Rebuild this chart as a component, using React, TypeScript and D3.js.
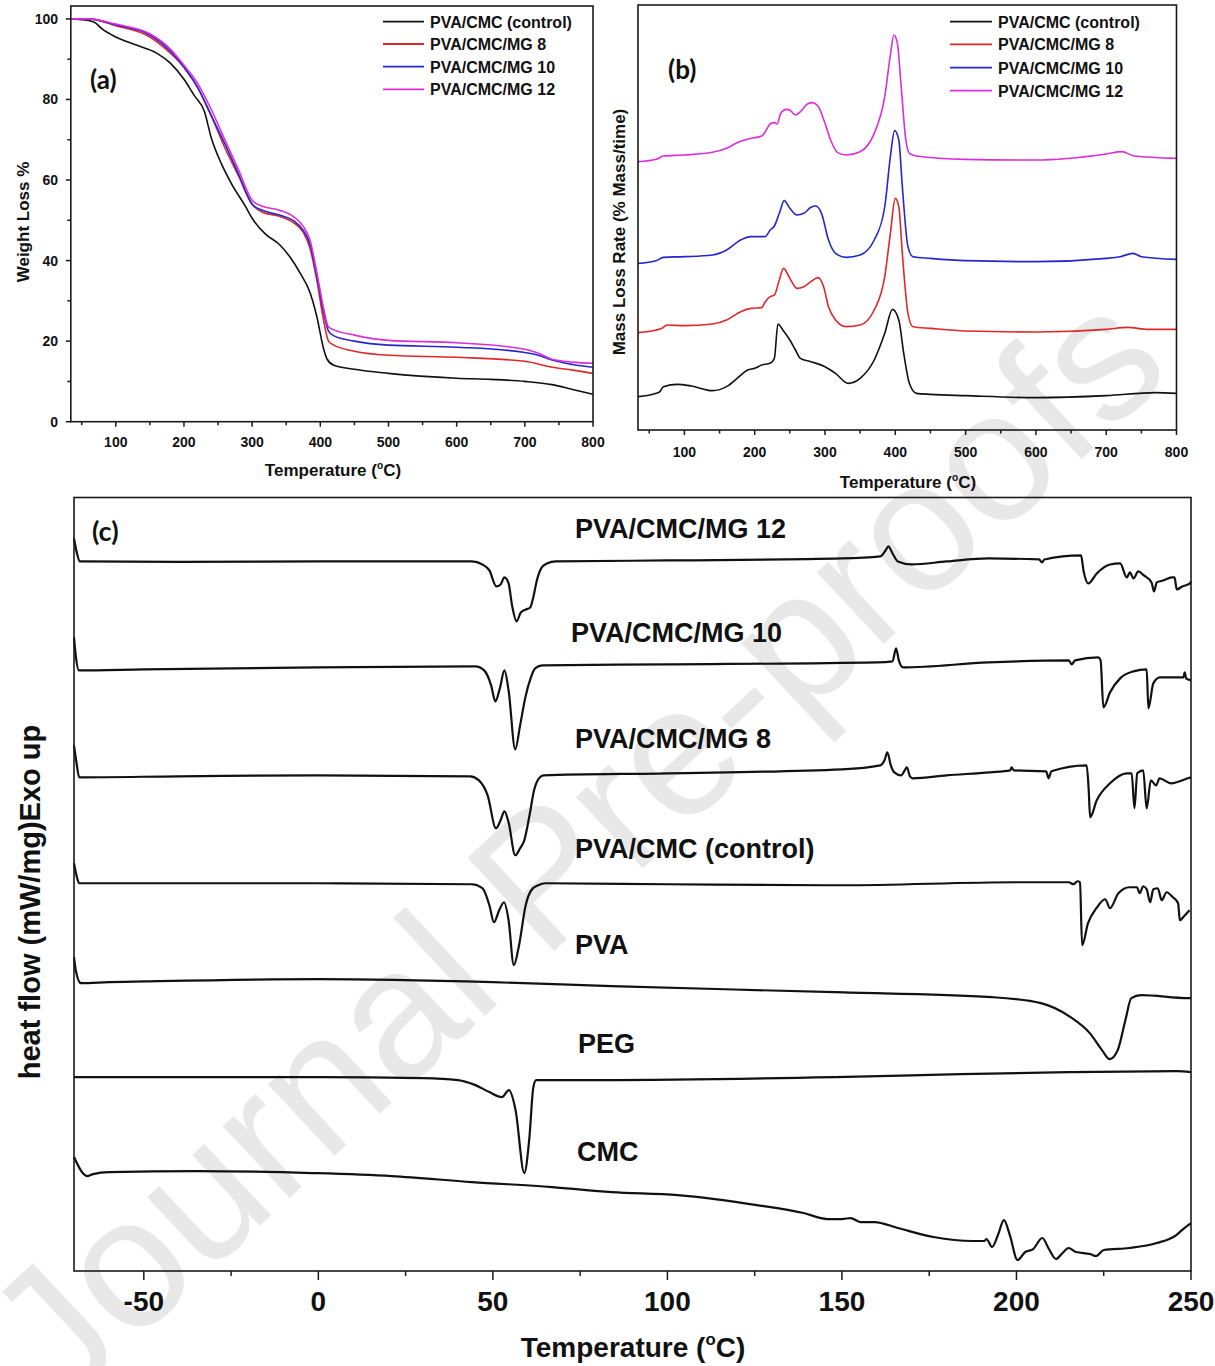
import React from "react";
import * as d3 from "d3";

type Pt = [number, number];

const W = 1215;
const H = 1366;
const SANS = "'Liberation Sans', Arial, Helvetica, sans-serif";
const TAG_FONT = "Lato, 'Open Sans', sans-serif";

// ---------- (a) TGA: weight remaining (%) vs temperature (°C) ----------
const tgaControl: Pt[] = [
  [34, 100], [60, 99.6], [70, 99], [80, 97.5], [100, 95.5], [130, 93.5], [160, 91.5], [180, 89],
  [200, 85], [215, 81], [230, 77], [240, 70.5], [255, 64], [270, 59], [290, 53.5], [300, 50.5],
  [320, 46.5], [340, 44], [355, 41], [370, 37], [385, 32], [395, 26], [405, 18], [410, 15.5],
  [420, 14], [450, 13], [500, 12], [600, 10.8], [650, 10.5], [700, 10], [740, 9.2], [770, 8], [800, 6.8],
];
const tgaMG8: Pt[] = [
  [34, 100], [60, 100], [100, 98.3], [150, 95.5], [180, 91.5], [200, 88], [220, 83], [240, 76],
  [260, 68], [280, 61], [300, 54], [315, 52], [340, 51], [360, 49.5], [375, 47], [385, 43],
  [395, 35], [405, 25], [412, 20], [420, 19], [450, 17.5], [500, 16.5], [600, 16], [700, 15],
  [740, 13.5], [770, 12.8], [800, 12],
];
const tgaMG10: Pt[] = [
  [34, 100], [60, 100], [100, 98.5], [150, 96], [180, 92], [200, 88], [220, 83], [240, 76],
  [260, 69], [280, 61.5], [300, 54], [315, 52.5], [340, 51.3], [360, 50], [375, 47.5], [385, 44],
  [395, 36], [405, 27], [412, 22.5], [420, 21.3], [450, 20], [500, 19], [600, 18.5], [700, 17.2],
  [720, 16.5], [740, 15.3], [770, 14.2], [800, 13.5],
];
const tgaMG12: Pt[] = [
  [34, 100], [60, 100], [100, 98.7], [150, 96.3], [180, 92.5], [200, 88.5], [220, 84], [240, 77.5],
  [260, 70], [280, 62.5], [300, 55], [315, 53.5], [340, 52.5], [360, 51], [375, 48.5], [385, 45],
  [395, 37], [405, 28], [412, 23.5], [420, 22.8], [450, 21.5], [500, 20.2], [600, 19.6], [700, 18],
  [720, 17], [740, 15.5], [770, 14.8], [800, 14.5],
];

// ---------- (b) DTG: mass loss rate (offset traces, arb. units) ----------
const dtgControl: Pt[] = [
  [34, 10.0], [60, 11.0], [65, 11.5], [70, 13.0], [90, 13.7], [110, 13.2], [140, 11.8], [160, 13.0],
  [175, 15.5], [190, 18.0], [200, 18.5], [210, 19.5], [222, 20.0], [228, 21.5], [233, 31.8],
  [240, 30.0], [250, 27.0], [258, 24.0], [265, 21.5], [280, 20.5], [300, 19.0], [315, 17.0],
  [333, 14.0], [350, 15.5], [370, 21.0], [385, 29.0], [396, 36.2], [405, 33.0], [412, 23.0],
  [420, 14.0], [430, 11.0], [450, 10.7], [500, 10.3], [600, 9.7], [700, 10.3], [770, 11.2], [800, 11.0],
];
const dtgMG8: Pt[] = [
  [34, 29.2], [60, 30.0], [68, 30.5], [75, 31.5], [100, 31.3], [140, 31.8], [160, 33.0], [180, 35.5],
  [195, 36.5], [210, 36.7], [215, 38.5], [222, 40.0], [228, 40.5], [235, 45.0], [241, 48.5],
  [250, 45.5], [260, 42.5], [270, 43.0], [280, 44.5], [290, 45.7], [298, 43.0], [305, 37.0],
  [315, 33.0], [330, 31.0], [350, 31.5], [370, 36.0], [385, 46.0], [393, 59.0], [400, 69.5],
  [405, 67.0], [410, 53.0], [418, 35.0], [425, 31.0], [450, 30.5], [500, 29.7], [600, 29.4],
  [700, 30.2], [730, 30.8], [760, 30.2], [800, 30.2],
];
const dtgMG10: Pt[] = [
  [34, 50.0], [60, 50.8], [70, 51.8], [100, 52.0], [140, 52.5], [160, 54.0], [180, 57.0], [195, 58.0],
  [215, 58.0], [222, 60.0], [228, 61.2], [235, 65.0], [242, 68.8], [250, 66.5], [260, 64.5],
  [270, 65.0], [280, 66.8], [287, 67.2], [295, 65.0], [305, 57.0], [315, 53.0], [330, 51.8],
  [350, 52.5], [370, 57.0], [385, 67.0], [393, 82.0], [399, 89.8], [405, 87.0], [410, 73.0],
  [418, 55.0], [425, 52.0], [450, 51.5], [500, 50.8], [600, 50.5], [700, 51.5], [720, 52.0],
  [738, 53.0], [750, 52.0], [800, 51.2],
];
const dtgMG12: Pt[] = [
  [34, 80.5], [60, 81.2], [70, 82.2], [100, 82.5], [140, 83.3], [160, 84.5], [175, 86.2], [195, 87.5],
  [210, 88.2], [215, 89.5], [222, 91.8], [228, 92.2], [232, 91.8], [237, 95.0], [245, 96.2],
  [250, 96.0], [258, 94.5], [265, 95.5], [275, 97.8], [282, 98.2], [290, 97.2], [300, 92.0],
  [308, 87.0], [318, 83.2], [330, 82.5], [350, 83.5], [370, 89.0], [385, 100.0], [393, 112.5],
  [398, 118.5], [403, 116.0], [408, 104.0], [415, 87.0], [420, 83.0], [430, 82.2], [500, 81.2],
  [600, 81.0], [700, 82.8], [722, 83.5], [740, 82.2], [800, 81.5],
];

const seriesNames = ["PVA/CMC (control)", "PVA/CMC/MG 8", "PVA/CMC/MG 10", "PVA/CMC/MG 12"];
const seriesColors = ["#111111", "#e0282a", "#2626cf", "#db2edb"];

const tempTicksAB = [100, 200, 300, 400, 500, 600, 700, 800];
const tempMinorAB = [50, 150, 250, 350, 450, 550, 650, 750];
const weightTicks = [0, 20, 40, 60, 80, 100];
const weightMinor = [10, 30, 50, 70, 90];

// ---------- (c) DSC: heat flow (offset traces, arb. units) ----------
const dscMG12: Pt[] = [
  [-70, 73.3], [-69.2, 71.9], [-68.3, 71.0], [-40, 70.95], [0, 71.0], [44, 71.0], [47, 70.7],
  [49, 70.1], [51, 68.5], [52.2, 68.7], [53.3, 69.4], [54.5, 68.8], [55.5, 66.6], [56.8, 65.0],
  [58, 65.9], [59.5, 66.2], [60.7, 66.4], [61.5, 67.3], [62.6, 69.1], [64, 70.4], [65.5, 70.8],
  [68, 71.0], [100, 71.1], [150, 71.3], [161, 71.5], [162.5, 72.1], [163.3, 72.5], [164.5, 71.8],
  [166, 71.0], [170, 70.7], [180, 71.0], [192, 71.3], [206.5, 71.2], [207.3, 70.9], [208, 71.2],
  [218.5, 71.6], [219.2, 70.1], [220.6, 68.8], [223, 69.8], [226.8, 70.7], [229.7, 70.8],
  [231.6, 69.4], [232.5, 69.9], [233.5, 69.3], [234.9, 70.0], [236.5, 69.6], [238.7, 68.9],
  [239.4, 68.0], [240.2, 68.9], [242, 69.1], [244.5, 69.4], [245.3, 69.4], [245.9, 68.2],
  [247.5, 68.5], [249.7, 68.8], [250, 69.0],
];
const dscMG10: Pt[] = [
  [-70, 63.4], [-69.5, 61.6], [-68.6, 60.1], [-50, 60.2], [0, 60.4], [45, 60.5], [47.5, 60.1],
  [49.5, 58.6], [50.7, 57.0], [52, 58.3], [53.3, 60.1], [54.5, 58.1], [56.4, 52.2], [57.8, 54.6],
  [59.3, 57.4], [60.8, 59.3], [62.1, 60.3], [64.2, 60.6], [100, 60.7], [160, 60.9], [164.5, 61.0],
  [165.5, 62.3], [166.3, 61.1], [167.5, 60.4], [192, 60.9], [215, 61.1], [215.8, 60.7],
  [216.8, 61.1], [223.4, 61.4], [224.1, 61.1], [224.9, 56.4], [226.8, 57.9], [229.7, 59.3],
  [233.5, 60.0], [237.3, 60.2], [237.8, 56.3], [239.2, 58.8], [241.1, 59.4], [247.8, 59.4],
  [248.2, 59.9], [248.6, 59.3], [250, 59.1],
];
const dscMG8: Pt[] = [
  [-70, 52.6], [-69.3, 50.9], [-68.5, 49.4], [-40, 49.5], [0, 49.6], [43.5, 49.5], [46, 49.1],
  [48.5, 47.6], [50.9, 44.3], [52.2, 45.1], [53.3, 46.0], [54.5, 44.9], [56.4, 41.6], [57.8, 42.3],
  [59, 43.1], [60.5, 45.6], [61.8, 48.1], [63.2, 49.3], [64.5, 49.6], [100, 49.8], [150, 50.2],
  [161, 50.6], [162.2, 51.1], [163, 51.9], [164, 50.6], [165, 49.9], [167, 49.6], [168, 50.1],
  [168.6, 50.4], [169.5, 49.5], [170.3, 49.3], [180, 49.6], [192.4, 49.9], [198.2, 50.1],
  [198.6, 50.4], [199.2, 50.1], [208.5, 50.0], [209.2, 49.3], [210, 50.0], [220.1, 50.6],
  [220.7, 48.1], [221.1, 45.4], [223, 47.1], [226.8, 48.8], [231.6, 49.8], [233, 49.8],
  [233.8, 46.3], [234.6, 49.8], [236.3, 50.1], [237.3, 46.3], [238.5, 49.1], [240, 48.6],
  [241, 49.3], [244.3, 48.8], [249.1, 49.3], [250, 49.4],
];
const dscControl: Pt[] = [
  [-70, 40.8], [-69.3, 39.6], [-68.5, 38.8], [-40, 38.8], [0, 38.8], [44, 38.7], [47, 38.3],
  [49, 36.6], [50.3, 34.9], [51.8, 36.1], [53.2, 36.9], [54.5, 35.1], [56, 30.6], [57.5, 32.6],
  [59.4, 36.6], [61, 38.1], [63, 38.6], [65, 38.8], [100, 38.7], [150, 38.6], [200, 38.9],
  [215, 38.9], [216.3, 38.7], [217.5, 39.0], [218.2, 38.9], [218.8, 32.6], [220.5, 34.8],
  [222.9, 36.3], [225.4, 37.2], [226.8, 36.3], [229.2, 37.8], [232.4, 38.4], [234.5, 38.4],
  [235.3, 37.8], [236.3, 38.5], [237.3, 38.2], [238.3, 36.9], [239.2, 38.2], [240.5, 38.3],
  [241.6, 37.1], [243, 37.9], [244.8, 37.4], [246.3, 36.8], [246.8, 35.1], [248, 35.5], [249.6, 36.1],
];
const dscPVA: Pt[] = [
  [-70, 31.4], [-69.5, 30.1], [-68, 28.8], [-60, 28.9], [-46, 29.0], [0, 29.2], [50, 28.9],
  [84, 28.5], [148, 27.9], [193, 27.4], [207, 26.8], [215.5, 25.4], [221, 23.8], [224.5, 22.1],
  [226.7, 21.2], [229, 22.1], [231.2, 25.1], [232.9, 27.3], [235.7, 27.6], [249.2, 27.3], [250, 27.3],
];
const dscPEG: Pt[] = [
  [-70, 19.4], [0, 19.4], [30, 19.3], [40, 19.1], [45, 18.6], [49, 17.9], [52.6, 17.4], [54.6, 18.1],
  [56.5, 16.1], [59, 9.8], [60.4, 13.1], [61.6, 18.4], [62.4, 19.1], [81, 19.1], [148, 19.4],
  [184, 19.7], [215, 19.9], [246, 20.0], [250, 19.9],
];
const dscCMC: Pt[] = [
  [-70, 11.4], [-67.5, 9.8], [-66.3, 9.5], [-64.5, 9.7], [-60, 9.9], [-34.6, 10.0], [-1.7, 9.8],
  [21, 9.5], [44, 8.9], [67, 8.4], [84, 7.9], [103, 7.6], [125.6, 6.6], [139, 5.8], [145.8, 5.2],
  [150, 5.2], [152.5, 5.3], [155.3, 4.9], [159.3, 4.9], [166, 4.3], [176.2, 3.4], [187.4, 3.0],
  [190.8, 3.0], [191.4, 3.2], [193, 2.4], [194.7, 3.6], [196.4, 5.1], [198.1, 3.6], [200.3, 1.1],
  [202.5, 1.9], [204.8, 2.2], [207.4, 3.3], [209.3, 2.2], [211.3, 1.2], [213.2, 1.8], [214.9, 2.3],
  [217.1, 1.9], [221.1, 1.7], [222.8, 1.5], [225, 2.1], [232.3, 2.3], [240.2, 2.8], [245.8, 3.6],
  [248.1, 4.3], [250, 4.8],
];
const dscNames = ["PVA/CMC/MG 12", "PVA/CMC/MG 10", "PVA/CMC/MG 8", "PVA/CMC (control)", "PVA", "PEG", "CMC"];
const dscTicks = [-50, 0, 50, 100, 150, 200, 250];
const dscMinor = [-25, 25, 75, 125, 175, 225];

// ---------- layout ----------
const A = { l: 70.8, r: 593, t: 6, b: 421.7 };
const B = { l: 638, r: 1176.5, t: 5, b: 430 };
const C = { l: 74, r: 1191, t: 497.5, b: 1271 };

const xA = d3.scaleLinear().domain([34, 800]).range([A.l, A.r]);
const yA = d3.scaleLinear().domain([0, 103.2]).range([A.b, A.t]);
const xB = d3.scaleLinear().domain([34, 800]).range([B.l, B.r]);
const yB = d3.scaleLinear().domain([0, 127.5]).range([B.b, B.t]);
const xC = d3.scaleLinear().domain([-70, 250]).range([C.l, C.r]);
const yC = d3.scaleLinear().domain([0, 77.4]).range([C.b, C.t]);

function makeLine(x: d3.ScaleLinear<number, number>, y: d3.ScaleLinear<number, number>) {
  return d3
    .line<Pt>()
    .x((d) => x(d[0]))
    .y((d) => y(d[1]))
    .curve(d3.curveMonotoneX);
}

const Frame = ({ box }: { box: { l: number; r: number; t: number; b: number } }) => (
  <rect x={box.l} y={box.t} width={box.r - box.l} height={box.b - box.t} fill="none" stroke="#1a1a1a" strokeWidth={1.6} />
);

const TempLabel = ({ x, y, size }: { x: number; y: number; size: number }) => (
  <text x={x} y={y} textAnchor="middle" fontFamily={SANS} fontWeight="bold" fontSize={size} fill="#111">
    Temperature (
    <tspan fontSize={size * 0.6} dy={-size * 0.42}>o</tspan>
    <tspan dy={size * 0.42}>C)</tspan>
  </text>
);

const BottomTicks = ({
  x, y, major, minor, majorLen, minorLen, labelY, size,
}: {
  x: d3.ScaleLinear<number, number>; y: number; major: number[]; minor: number[];
  majorLen: number; minorLen: number; labelY: number; size: number;
}) => (
  <g>
    {major.map((t) => (
      <g key={"M" + t}>
        <line x1={x(t)} x2={x(t)} y1={y} y2={y + majorLen} stroke="#1a1a1a" strokeWidth={1.5} />
        <text x={x(t)} y={labelY} textAnchor="middle" fontFamily={SANS} fontWeight="bold" fontSize={size} fill="#111">
          {t}
        </text>
      </g>
    ))}
    {minor.map((t) => (
      <line key={"m" + t} x1={x(t)} x2={x(t)} y1={y} y2={y + minorLen} stroke="#1a1a1a" strokeWidth={1.5} />
    ))}
  </g>
);

const Legend = ({ x1, x2, tx, rows }: { x1: number; x2: number; tx: number; rows: number[] }) => (
  <g>
    {seriesNames.map((n, i) => (
      <g key={n}>
        <line x1={x1} x2={x2} y1={rows[i]} y2={rows[i]} stroke={seriesColors[i]} strokeWidth={1.8} />
        <text x={tx} y={rows[i] + 5.8} fontFamily={SANS} fontWeight="bold" fontSize={16} fill="#111">
          {n}
        </text>
      </g>
    ))}
  </g>
);

export default function App() {
  const lineA = makeLine(xA, yA);
  const lineB = makeLine(xB, yB);
  const lineC = makeLine(xC, yC);
  const tga = [tgaControl, tgaMG8, tgaMG10, tgaMG12];
  const dtg = [dtgControl, dtgMG8, dtgMG10, dtgMG12];
  const dsc = [dscMG12, dscMG10, dscMG8, dscControl, dscPVA, dscPEG, dscCMC];
  const dscLabelX = [575, 571, 575, 575, 575, 578, 577];
  const dscLabelY = [538, 642, 748, 858, 954, 1053, 1161];

  return (
    <svg
      width={W}
      height={H}
      viewBox={`0 0 ${W} ${H}`}
      style={{ position: "absolute", left: 0, top: 0, background: "#fff" }}
    >
      <rect x={0} y={0} width={W} height={H} fill="#fff" />
      {/* diagonal watermark behind everything */}
      <text
        x={62}
        y={1410}
        transform="rotate(-43 62 1410)"
        fontFamily={SANS}
        fontSize={185}
        fill="#e8e8e8"
      >
        Journal Pre-proofs
      </text>

      {/* ---------- (a) ---------- */}
      <g>
        {tga.map((s, i) => (
          <path key={i} d={lineA(s) || ""} fill="none" stroke={seriesColors[i]} strokeWidth={1.6} />
        ))}
        <Frame box={A} />
        <BottomTicks x={xA} y={A.b} major={tempTicksAB} minor={tempMinorAB} majorLen={5} minorLen={3.5} labelY={447} size={14} />
        {weightTicks.map((t) => (
          <g key={t}>
            <line x1={A.l - 5} x2={A.l} y1={yA(t)} y2={yA(t)} stroke="#1a1a1a" strokeWidth={1.5} />
            <text x={58} y={yA(t) + 5} textAnchor="end" fontFamily={SANS} fontWeight="bold" fontSize={14} fill="#111">
              {t}
            </text>
          </g>
        ))}
        {weightMinor.map((t) => (
          <line key={t} x1={A.l - 3.5} x2={A.l} y1={yA(t)} y2={yA(t)} stroke="#1a1a1a" strokeWidth={1.5} />
        ))}
        <text
          transform="translate(29,222) rotate(-90)"
          textAnchor="middle"
          fontFamily={SANS}
          fontWeight="bold"
          fontSize={17}
          fill="#111"
        >
          Weight Loss %
        </text>
        <TempLabel x={333} y={476} size={17} />
        <Legend x1={383} x2={424} tx={430} rows={[21.7, 44, 66.7, 89.3]} />
        <text x={90} y={89} fontFamily={TAG_FONT} fontWeight="bold" fontSize={26} fill="#111">
          (a)
        </text>
      </g>

      {/* ---------- (b) ---------- */}
      <g>
        {dtg.map((s, i) => (
          <path key={i} d={lineB(s) || ""} fill="none" stroke={seriesColors[i]} strokeWidth={1.6} />
        ))}
        <Frame box={B} />
        <BottomTicks x={xB} y={B.b} major={tempTicksAB} minor={tempMinorAB} majorLen={5} minorLen={3.5} labelY={457} size={14} />
        <text
          transform="translate(625,232) rotate(-90)"
          textAnchor="middle"
          fontFamily={SANS}
          fontWeight="bold"
          fontSize={17}
          fill="#111"
        >
          Mass Loss Rate (% Mass/time)
        </text>
        <TempLabel x={908} y={488} size={17} />
        <Legend x1={950} x2={992} tx={998} rows={[21.7, 44.3, 67.7, 90.7]} />
        <text x={668} y={79} fontFamily={TAG_FONT} fontWeight="bold" fontSize={26} fill="#111">
          (b)
        </text>
      </g>

      {/* ---------- (c) ---------- */}
      <g>
        {dsc.map((s, i) => (
          <path key={i} d={lineC(s) || ""} fill="none" stroke="#111" strokeWidth={2.2} strokeLinejoin="round" />
        ))}
        <Frame box={C} />
        <BottomTicks x={xC} y={C.b} major={dscTicks} minor={dscMinor} majorLen={9} minorLen={5} labelY={1311} size={28} />
        {dscNames.map((n, i) => (
          <text key={n} x={dscLabelX[i]} y={dscLabelY[i]} fontFamily={SANS} fontWeight="bold" fontSize={27} fill="#111">
            {n}
          </text>
        ))}
        <text
          transform="translate(40,902) rotate(-90)"
          textAnchor="middle"
          fontFamily={SANS}
          fontWeight="bold"
          fontSize={29}
          fill="#111"
        >
          heat flow (mW/mg)Exo up
        </text>
        <TempLabel x={633} y={1357} size={28} />
        <text x={92} y={541} fontFamily={TAG_FONT} fontWeight="bold" fontSize={27} fill="#111">
          (c)
        </text>
      </g>
    </svg>
  );
}
